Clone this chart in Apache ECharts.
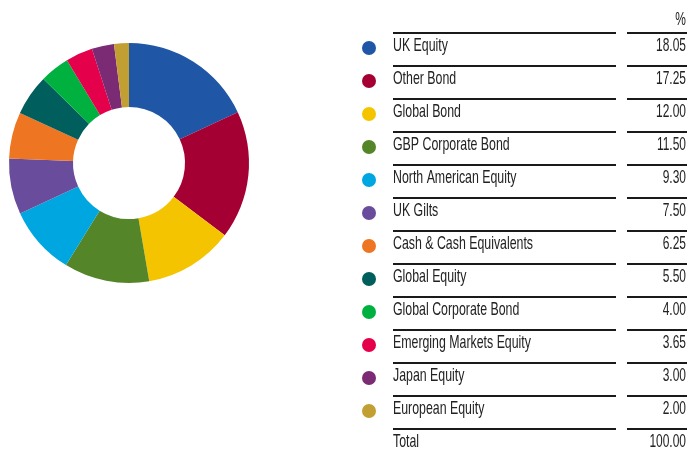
<!DOCTYPE html>
<html><head><meta charset="utf-8">
<script src="https://cdn.jsdelivr.net/npm/echarts@6/dist/echarts.min.js"></script>
<style>html,body{margin:0;padding:0;background:#fff}#c{width:700px;height:449px}</style>
</head><body><div id="c"></div>
<script>
const categories = ["UK Equity","Other Bond","Global Bond","GBP Corporate Bond","North American Equity","UK Gilts","Cash & Cash Equivalents","Global Equity","Global Corporate Bond","Emerging Markets Equity","Japan Equity","European Equity"];
const values = [18.05,17.25,12.00,11.50,9.30,7.50,6.25,5.50,4.00,3.65,3.00,2.00];
const palette = ["#1f56a5","#a50034","#f5c400","#548629","#00a6e0","#6a4c9c","#ee7623","#005e5c","#00b140","#e4004b","#7b2a74","#c19f33"];
const headerLabel = "%";
const totalLabel = "Total";

const FONT = '"Liberation Sans",Arial,sans-serif';
const chart = echarts.init(document.getElementById('c'), null, {renderer:'canvas'});
const total = values.reduce((a,b)=>a+b,0);
const g = [];
const lineW = 2, lineC = '#1a1a1a';
const x1 = 393, x2 = 616, x3 = 627, x4 = 686, top0 = 33, step = 33;
function txt(x,y,s,align,sx){
  return {type:'text', x:x, y:y, scaleX:sx, originX:0, originY:0,
    style:{x:0, y:0, text:s, font:'19px '+FONT, fill:'#222', textAlign:align, textVerticalAlign:'middle'}};
}
g.push(txt(x4, 20, headerLabel, 'right', 0.63));
categories.forEach((c,i)=>{
  const ly = top0 + step*i;
  g.push({type:'line', shape:{x1:x1,y1:ly,x2:x2,y2:ly}, style:{stroke:lineC,lineWidth:lineW}});
  g.push({type:'line', shape:{x1:x3,y1:ly,x2:x4+1,y2:ly}, style:{stroke:lineC,lineWidth:lineW}});
  g.push({type:'circle', shape:{cx:369, cy:ly+15, r:7}, style:{fill:palette[i]}});
  g.push(txt(x1, ly+13, c, 'left', 0.65));
  g.push(txt(x4, ly+13, values[i].toFixed(2), 'right', 0.63));
});
const ly = top0 + step*categories.length;
g.push({type:'line', shape:{x1:x1,y1:ly,x2:x2,y2:ly}, style:{stroke:lineC,lineWidth:lineW}});
g.push({type:'line', shape:{x1:x3,y1:ly,x2:x4+1,y2:ly}, style:{stroke:lineC,lineWidth:lineW}});
g.push(txt(x1, ly+13, totalLabel, 'left', 0.65));
g.push(txt(x4, ly+13, total.toFixed(2), 'right', 0.63));

chart.setOption({
  animation:false,
  color: palette,
  series:[{
    type:'pie', center:[129,163], radius:[56,120], startAngle:90, clockwise:true,
    label:{show:false}, labelLine:{show:false}, silent:true,
    itemStyle:{borderWidth:0},
    data: categories.map((c,i)=>({name:c, value:values[i]}))
  }],
  graphic: g
});
</script></body></html>
